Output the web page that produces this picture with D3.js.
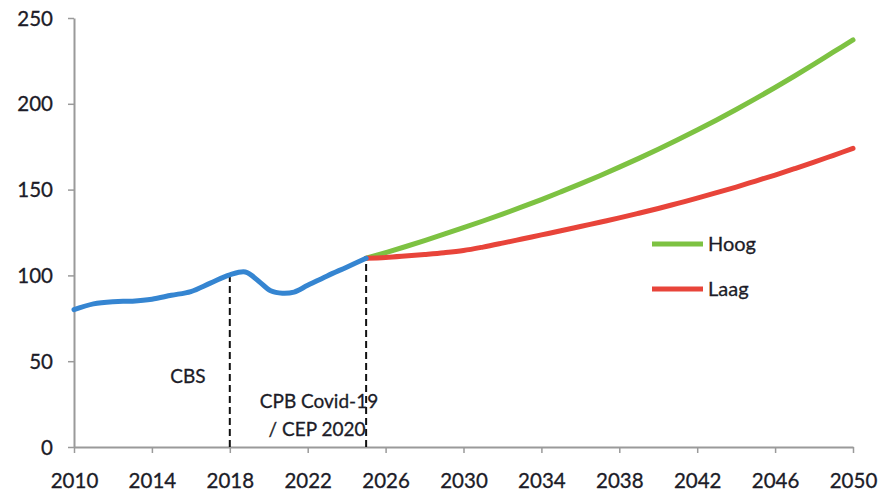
<!DOCTYPE html>
<html><head><meta charset="utf-8">
<script src="https://cdn.jsdelivr.net/npm/d3@7"></script>
<style>body{margin:0;background:#fff}svg{display:block}text{font-family:Lato,"Open Sans",sans-serif}</style>
</head><body>
<svg id="c" width="881" height="493"></svg>
<script>
const histYears = [2010,2011,2012,2013,2014,2015,2016,2017,2018,2018.8,2019.5,2020.1,2020.7,2021.3,2022,2023,2024,2025];
const histValues = [80,83.4,84.7,85,86.1,88.4,90.6,95.5,100.3,102,96.5,91,89.6,90.3,94.2,99.7,104.8,110];
const projYears = d3.range(2025,2051);
const hoogValues = [110,113.3,116.7,120.3,124,127.8,131.7,135.7,139.9,144.2,148.7,153.3,158.1,163.1,168.2,173.5,179,184.7,190.6,196.7,203,209.5,216.2,223.1,230.2,237.2];
const laagValues = [110,110.5,111.3,112.2,113.2,114.5,116.5,118.8,121.2,123.6,126,128.5,131,133.5,136.2,139,142,145,148.2,151.5,155,158.5,162.2,166,170,174];
const xTicks = [2010,2014,2018,2022,2026,2030,2034,2038,2042,2046,2050];
const yTicks = [0,50,100,150,200,250];
const markers = [{year:2018,value:100.3},{year:2025,value:110}];
const legendItems = [{name:"Hoog",color:"#7dc242"},{name:"Laag",color:"#e8443a"}];

const svg = d3.select("#c");
const x = d3.scaleLinear().domain([2010,2050]).range([74,853]);
const y = d3.scaleLinear().domain([0,250]).range([447,18]);

const xa = svg.append("g").attr("transform","translate(0,447)")
  .call(d3.axisBottom(x).tickValues(xTicks).tickFormat(d3.format("d")).tickSize(6).tickSizeOuter(0));
const ya = svg.append("g").attr("transform","translate(74,0)")
  .call(d3.axisLeft(y).tickValues(yTicks).tickSize(6).tickSizeOuter(0));
[xa,ya].forEach(a=>{
  a.select(".domain").attr("stroke","#9a9a9a").attr("stroke-width",2);
  a.selectAll(".tick line").attr("stroke","#9a9a9a").attr("stroke-width",1.5);
  a.selectAll("text").attr("fill","#1c1c28").style("font-size","20.5px").style("font-family","Lato,sans-serif")
    .attr("stroke","#1c1c28").attr("stroke-width",0.3);
});
xa.selectAll("text").attr("dy","0").attr("y",41);
ya.selectAll("text").attr("x",-21).attr("dy","0.35em");

svg.selectAll(".mk").data(markers).join("line")
  .attr("x1",d=>x(d.year)).attr("x2",d=>x(d.year))
  .attr("y1",y(0)).attr("y2",d=>y(d.value))
  .attr("stroke","#111").attr("stroke-width",2).attr("stroke-dasharray","7,4");

const lab = [{t:"CBS",x:188,y:376},{t:"CPB Covid-19",x:319,y:401},{t:"/ CEP 2020",x:317,y:429}];
svg.selectAll(".lab").data(lab).join("text")
  .attr("x",d=>d.x).attr("y",d=>d.y).attr("dy","0.35em").attr("text-anchor","middle")
  .attr("fill","#1c1c28").attr("stroke","#1c1c28").attr("stroke-width",0.3)
  .style("font-size","19px").text(d=>d.t);

const line = d3.line().curve(d3.curveCatmullRom.alpha(0.5)).x(d=>x(d[0])).y(d=>y(d[1]));
svg.append("path").datum(projYears.map((yr,i)=>[yr,hoogValues[i]]))
  .attr("d",line).attr("fill","none").attr("stroke","#7dc242").attr("stroke-width",5).attr("stroke-linecap","round");
svg.append("path").datum(projYears.map((yr,i)=>[yr,laagValues[i]]))
  .attr("d",line).attr("fill","none").attr("stroke","#e8443a").attr("stroke-width",5).attr("stroke-linecap","round");
svg.append("path").datum(histYears.map((yr,i)=>[yr,histValues[i]]))
  .attr("d",line).attr("fill","none").attr("stroke","#3585d1").attr("stroke-width",5).attr("stroke-linecap","round");

const lg = svg.selectAll(".lg").data(legendItems).join("g").attr("transform",(d,i)=>`translate(652,${244+i*45})`);
lg.append("line").attr("x1",0).attr("x2",51).attr("stroke",d=>d.color).attr("stroke-width",5);
lg.append("text").attr("x",56).attr("dy","0.35em").attr("fill","#1c1c28").attr("stroke","#1c1c28").attr("stroke-width",0.3)
  .style("font-size","20px").text(d=>d.name);
</script>
</body></html>
